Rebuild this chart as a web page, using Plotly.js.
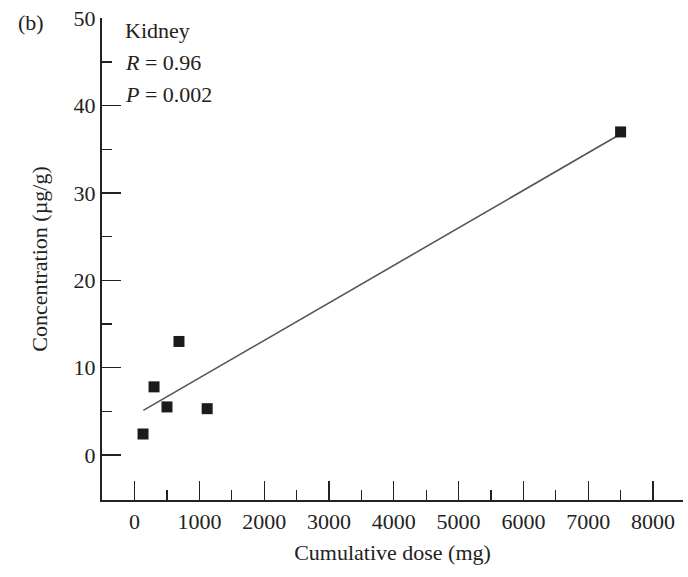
<!DOCTYPE html>
<html><head><meta charset="utf-8">
<script src="https://cdn.plot.ly/plotly-3.0.1.min.js"></script>
<style>body{margin:0;background:#fff}#c{width:688px;height:577px}</style>
</head><body><div id="c"></div>
<script>
const doseX = [130, 300, 500, 685, 1120, 7500];
const concY = [2.4, 7.8, 5.5, 13.0, 5.3, 37.0];
const fitX = [135, 7440];
const fitY = [5.1, 36.5];
const xTicks = [0,1000,2000,3000,4000,5000,6000,7000,8000];
const xMinor = [500,1500,2500,3500,4500,5500,6500,7500];
const yTicks = [0,10,20,30,40,50];
const yMinor = [5,15,25,35,45];
const labels = ["Kidney", "<i>R</i> = 0.96", "<i>P</i> = 0.002"];

const font = {family: "Liberation Serif, Times New Roman, serif", size: 22, color: "#222"};

const traces = [
  {x: fitX, y: fitY, mode: "lines", line: {color: "#555", width: 1.6}, hoverinfo: "skip"},
  {x: doseX, y: concY, mode: "markers", marker: {symbol: "square", size: 11, color: "#1b1b1b"}}
];

const annY = [48.6, 45.0, 41.3];
const annotations = labels.map((t, i) => ({
  text: t, xref: "paper", yref: "y", x: 0.036, y: annY[i], xanchor: "left", yanchor: "middle",
  showarrow: false, font: font
}));
annotations.push({text: "(b)", xref: "paper", yref: "paper", x: -0.148, y: 0.99, xanchor: "left",
  yanchor: "middle", showarrow: false, font: font});

const layout = {
  width: 688, height: 577,
  margin: {l: 102, r: 5, t: 18, b: 77},
  paper_bgcolor: "#fff", plot_bgcolor: "#fff",
  showlegend: false,
  font: font,
  xaxis: {
    range: [-503, 8463], tickmode: "array", tickvals: xTicks, ticktext: xTicks.map(String),
    ticks: "inside", ticklen: 19, tickwidth: 1.3, tickcolor: "#222",
    minor: {tickmode: "array", tickvals: xMinor, ticks: "inside", ticklen: 10, tickwidth: 1.3, tickcolor: "#222"},
    showline: true, linecolor: "#222", linewidth: 2.2, showgrid: false, zeroline: false,
    title: {text: "Cumulative dose (mg)", font: font, standoff: 12},
    tickfont: font
  },
  yaxis: {
    range: [-5.16, 50.05], tickmode: "array", tickvals: yTicks, ticktext: yTicks.map(String),
    ticks: "inside", ticklen: 19, tickwidth: 1.3, tickcolor: "#222",
    minor: {tickmode: "array", tickvals: yMinor, ticks: "inside", ticklen: 10, tickwidth: 1.3, tickcolor: "#222"},
    showline: true, linecolor: "#222", linewidth: 2.2, showgrid: false, zeroline: false,
    title: {text: "Concentration (µg/g)", font: font, standoff: 20},
    tickfont: font
  },
  annotations: annotations
};
Plotly.newPlot("c", traces, layout, {staticPlot: true});
</script></body></html>
